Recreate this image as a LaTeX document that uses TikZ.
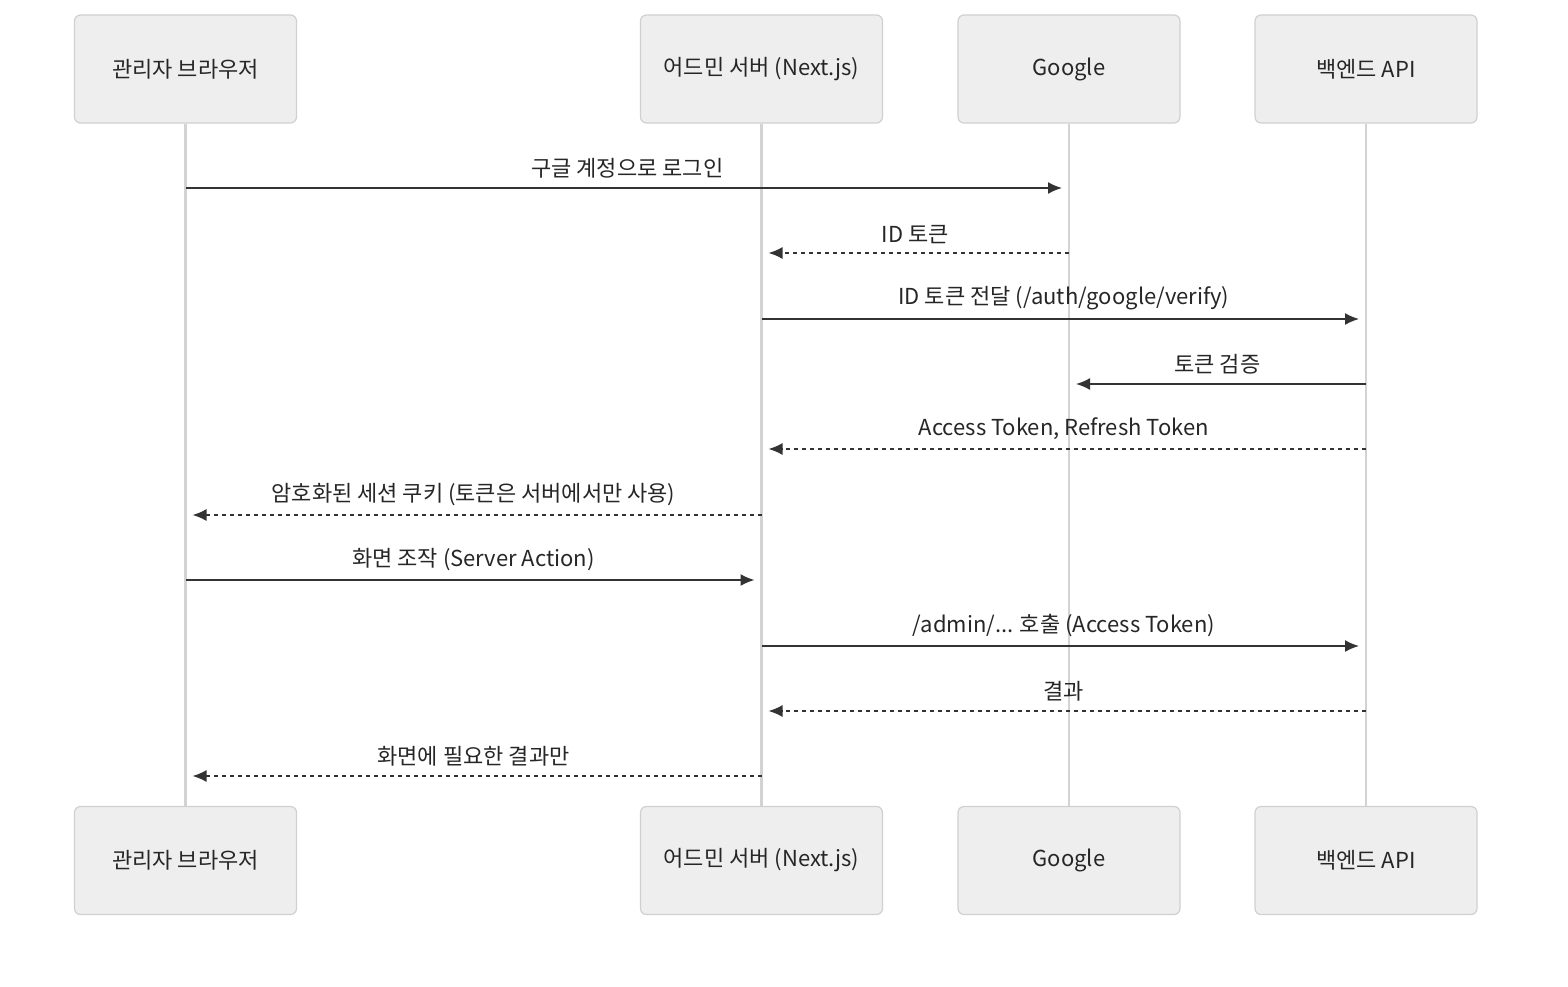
\documentclass[tikz,border=0pt]{standalone}
\usepackage{fontspec}
\setmainfont{Noto Sans CJK KR}
\usetikzlibrary{arrows.meta,positioning}
\definecolor{boxfill}{HTML}{EEEEEE}
\definecolor{boxline}{HTML}{D0D0D0}
\definecolor{lifegray}{HTML}{D3D3D3}
\definecolor{msgdark}{HTML}{333333}

\begin{document}
\begin{tikzpicture}[
    x=0.5pt, y=-0.5pt,
    actor/.style={rectangle, rounded corners=3pt, draw=boxline, line width=0.6pt, fill=boxfill, minimum width=111pt, minimum height=54pt, font=\fontsize{11}{13}\selectfont, text=black!85},
    life/.style={draw=lifegray, line width=1.4pt},
    msg/.style={draw=msgdark, line width=0.8pt, -{Latex[length=7pt,width=6pt]}, shorten >=3.5pt},
    reply/.style={msg, dash pattern=on 2pt off 2pt},
    lbl/.style={above=1pt, font=\fontsize{11}{13}\selectfont, text=black!85},
]
    \useasboundingbox (0,0) rectangle (1568,986);

    % Actors (top)
    \node[actor] (browser) at (185.5,69) {관리자 브라우저};
    \node[actor, minimum width=121pt] (admin) at (761.5,69) {어드민 서버 (Next.js)};
    \node[actor] (google) at (1069,69) {Google};
    \node[actor] (backend) at (1366,69) {백엔드 API};

    % Actors (bottom)
    \node[actor] (browserB) at (185.5,860.5) {관리자 브라우저};
    \node[actor, minimum width=121pt] (adminB) at (761.5,860.5) {어드민 서버 (Next.js)};
    \node[actor] (googleB) at (1069,860.5) {Google};
    \node[actor] (backendB) at (1366,860.5) {백엔드 API};

    % Lifelines
    \draw[life] (browser) -- (browserB);
    \draw[life] (admin) -- (adminB);
    \draw[life] (google) -- (googleB);
    \draw[life] (backend) -- (backendB);

    % Messages
    \draw[msg] (browser.south |- 0,188) -- node[lbl] {구글 계정으로 로그인} (google.south |- 0,188);
    \draw[reply] (google.south |- 0,253) -- node[lbl] {ID 토큰} (admin.south |- 0,253);
    \draw[msg] (admin.south |- 0,319) -- node[lbl] {ID 토큰 전달 (/auth/google/verify)} (backend.south |- 0,319);
    \draw[msg] (backend.south |- 0,384) -- node[lbl] {토큰 검증} (google.south |- 0,384);
    \draw[reply] (backend.south |- 0,449) -- node[lbl] {Access Token, Refresh Token} (admin.south |- 0,449);
    \draw[reply] (admin.south |- 0,515) -- node[lbl] {암호화된 세션 쿠키 (토큰은 서버에서만 사용)} (browser.south |- 0,515);
    \draw[msg] (browser.south |- 0,580) -- node[lbl] {화면 조작 (Server Action)} (admin.south |- 0,580);
    \draw[msg] (admin.south |- 0,646) -- node[lbl] {/admin/... 호출 (Access Token)} (backend.south |- 0,646);
    \draw[reply] (backend.south |- 0,711) -- node[lbl] {결과} (admin.south |- 0,711);
    \draw[reply] (admin.south |- 0,776) -- node[lbl] {화면에 필요한 결과만} (browser.south |- 0,776);
\end{tikzpicture}
\end{document}
